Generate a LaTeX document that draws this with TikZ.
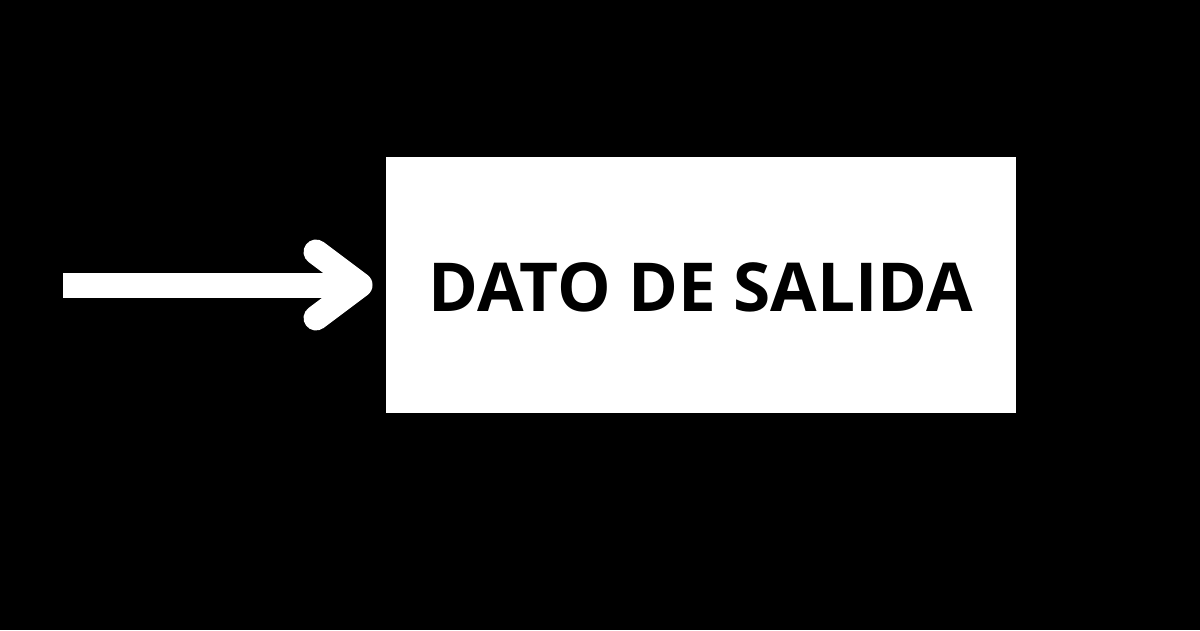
\documentclass[tikz,border=0pt]{standalone}
\usepackage{fontspec}
\setmainfont{Open Sans}
\usetikzlibrary{positioning, arrows.meta}
\tikzstyle{block} = [rectangle, fill=white, text=black, font=\fontsize{48}{56}\selectfont\bfseries, text centered, text height=1.34cm, text depth=0cm, minimum height=6.4cm, minimum width=15.75cm]
\tikzstyle{arrow} = [-{Straight Barb[length=1.1cm, width=1.65cm, round]}, white, line width=0.625cm, shorten >=0.33cm]

\begin{document}
\begin{tikzpicture}
    % fondo
    \fill[black] (0,0) rectangle (30,15.75);
    \useasboundingbox (0,0) rectangle (30,15.75);

    % caja de salida
    \node [block] (salida) at (17.525,8.625) {DATO DE SALIDA};

    % inicio de la flecha
    \coordinate (entrada) at (1.575,8.625);

    % flecha
    \draw [arrow] (entrada) -- (salida.west);
\end{tikzpicture}
\end{document}
